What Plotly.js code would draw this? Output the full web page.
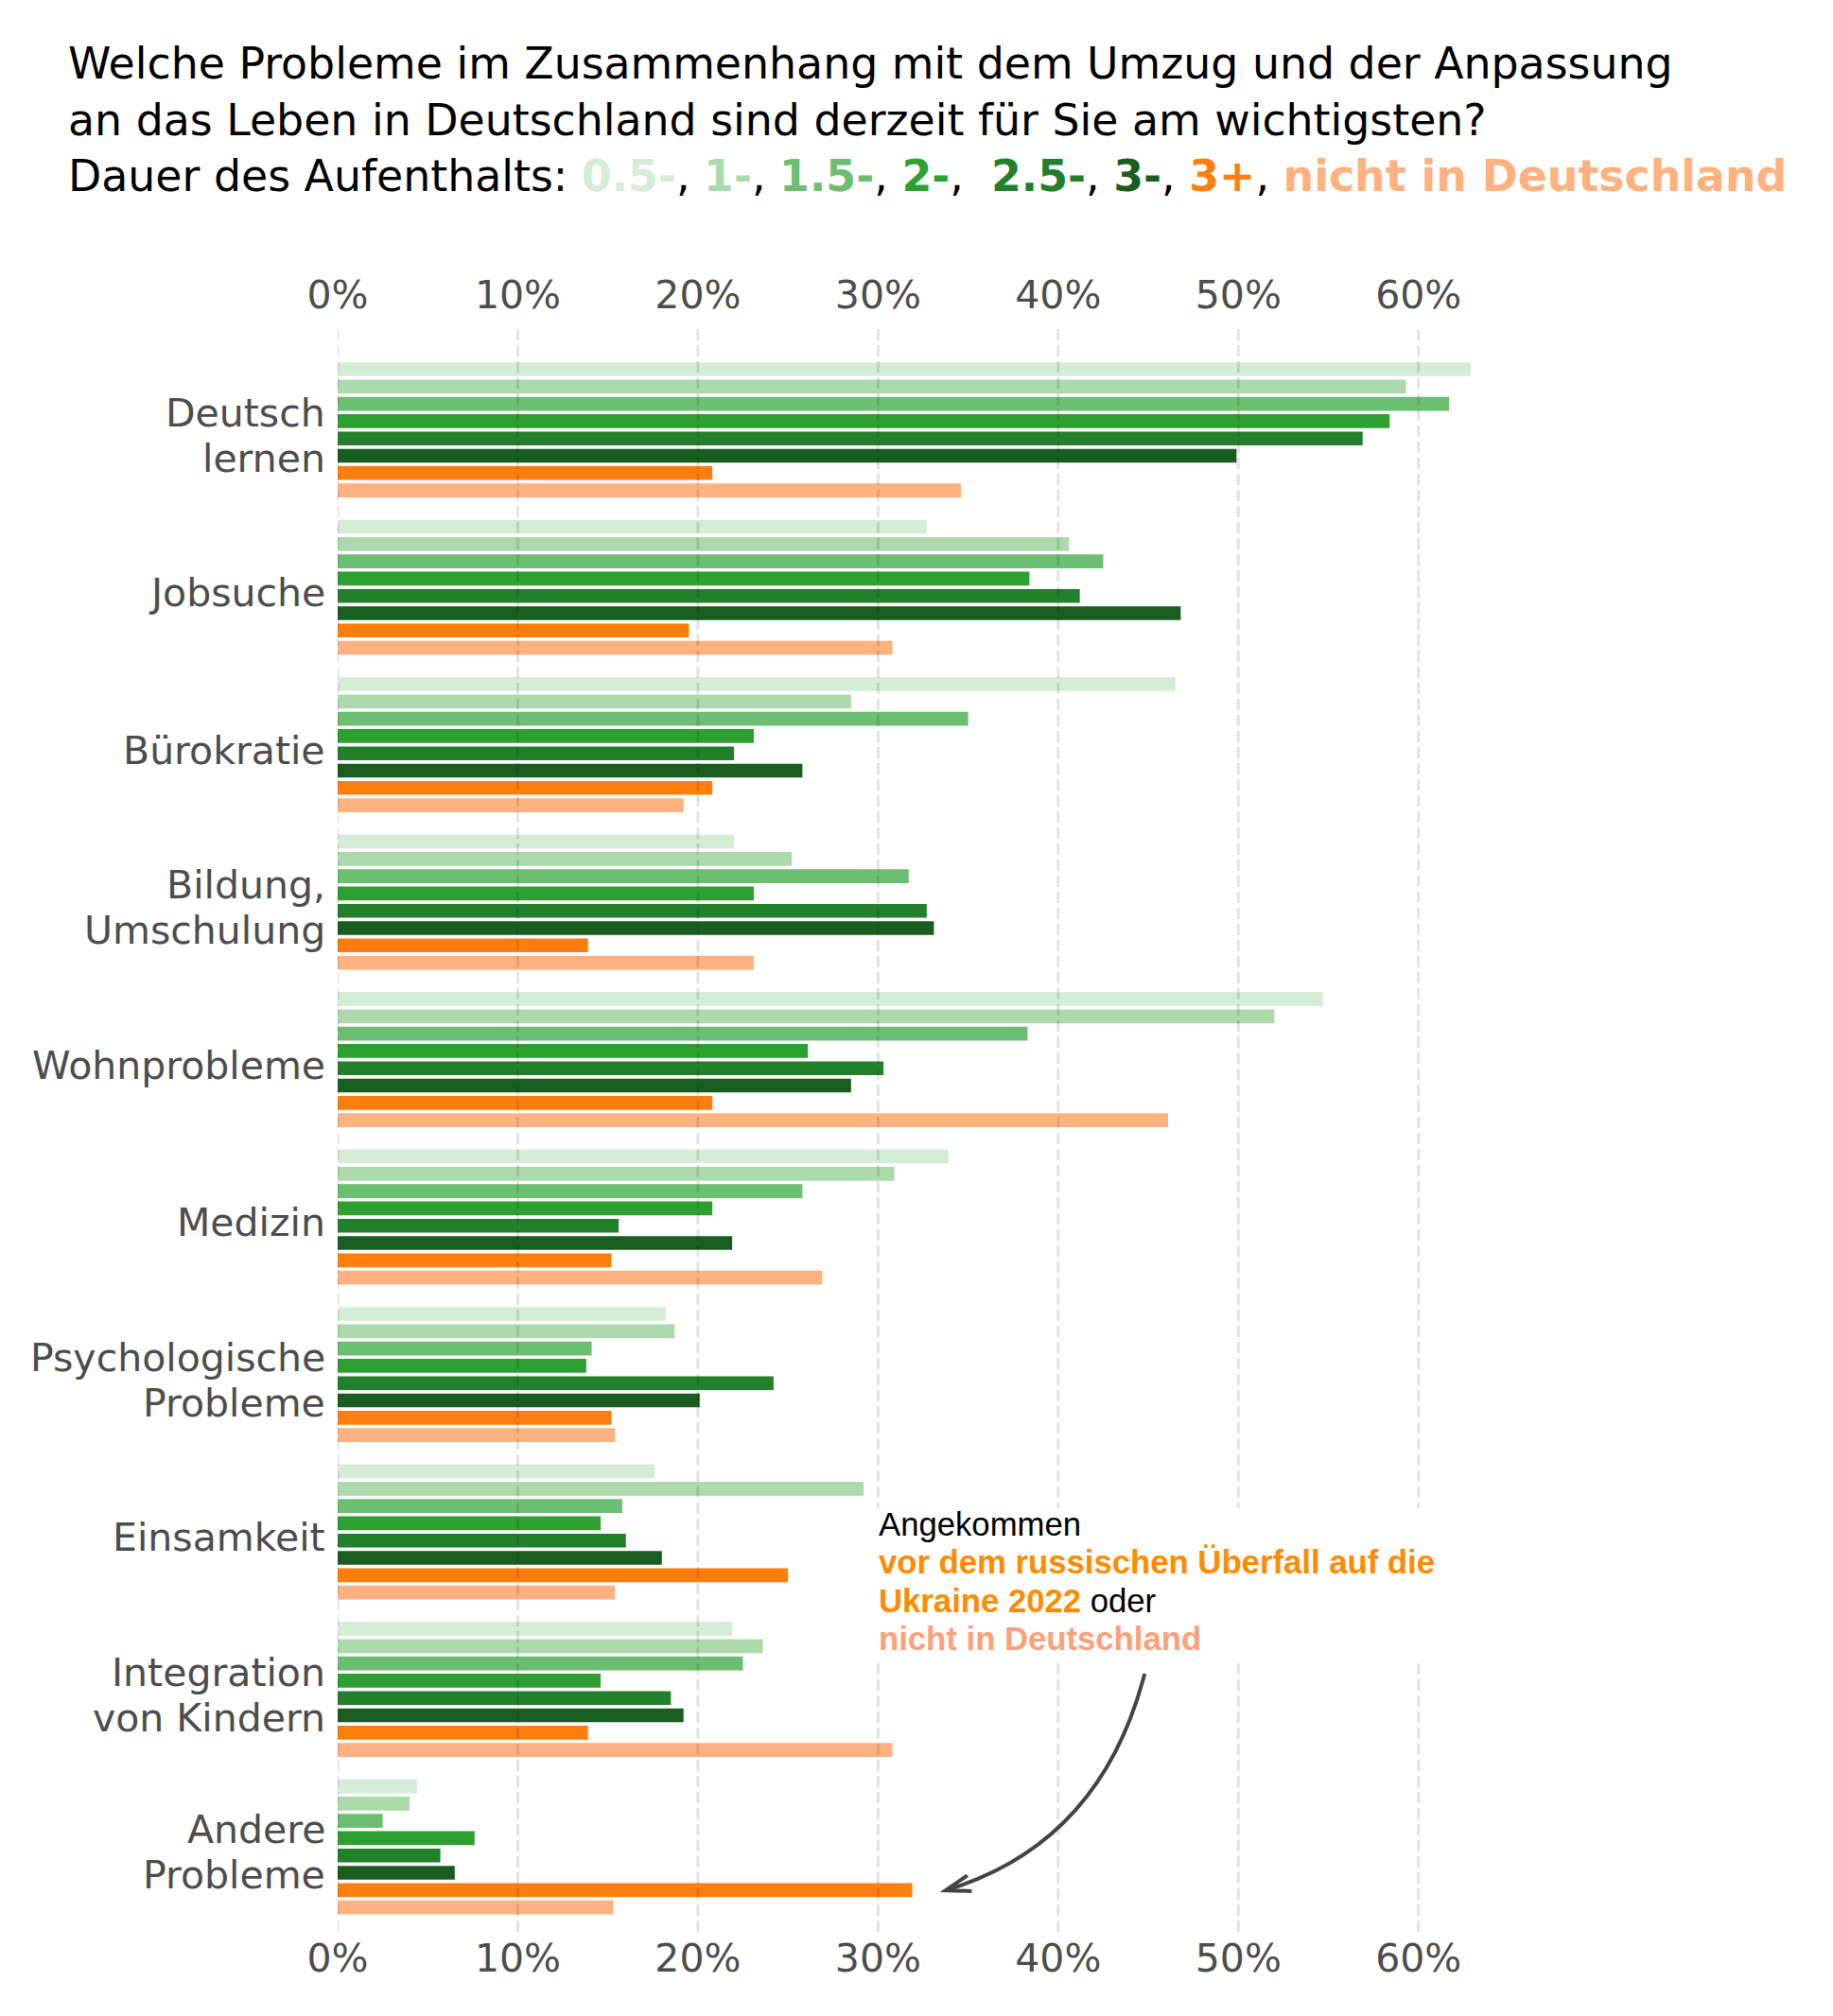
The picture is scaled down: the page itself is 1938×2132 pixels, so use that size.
<!DOCTYPE html>
<html>
<head>
<meta charset="utf-8">
<script src="https://cdn.plot.ly/plotly-3.0.1.min.js"></script>
<style>
html,body{margin:0;padding:0;background:#fff;}
#chart{width:1938px;height:2132px;}
</style>
</head>
<body>
<div id="chart"></div>
<script>
// ---- data ----
const categories = ['Deutsch lernen','Jobsuche','Bürokratie','Bildung, Umschulung','Wohnprobleme','Medizin','Psychologische Probleme','Einsamkeit','Integration von Kindern','Andere Probleme'];
const categoryLabels = ['Deutsch<br>lernen','Jobsuche','Bürokratie','Bildung,<br>Umschulung','Wohnprobleme','Medizin','Psychologische<br>Probleme','Einsamkeit','Integration<br>von Kindern','Andere<br>Probleme'];
const seriesNames = ['0.5-','1-','1.5-','2-','2.5-','3-','3+','nicht in Deutschland'];
const seriesColors = ['#d5ecd6','#acdaac','#6cbf70','#2ea032','#23802a','#1a5e1f','#ff7f0e','#ffb280'];

const v05  = [62.9, 32.7, 46.5, 22.0, 54.7, 33.9, 18.2, 17.6, 21.9, 4.4];
const v1   = [59.3, 40.6, 28.5, 25.2, 52.0, 30.9, 18.7, 29.2, 23.6, 4.0];
const v15  = [61.7, 42.5, 35.0, 31.7, 38.3, 25.8, 14.1, 15.8, 22.5, 2.5];
const v2   = [58.4, 38.4, 23.1, 23.1, 26.1, 20.8, 13.8, 14.6, 14.6, 7.6];
const v25  = [56.9, 41.2, 22.0, 32.7, 30.3, 15.6, 24.2, 16.0, 18.5, 5.7];
const v3   = [49.9, 46.8, 25.8, 33.1, 28.5, 21.9, 20.1, 18.0, 19.2, 6.5];
const v3p  = [20.8, 19.5, 20.8, 13.9, 20.8, 15.2, 15.2, 25.0, 13.9, 31.9];
const vNot = [34.6, 30.8, 19.2, 23.1, 46.1, 26.9, 15.4, 15.4, 30.8, 15.3];
const seriesValues = [v05, v1, v15, v2, v25, v3, v3p, vNot];

const xTickVals = [0, 10, 20, 30, 40, 50, 60];
const xTickText = ['0%','10%','20%','30%','40%','50%','60%'];

// ---- traces ----
const traces = seriesValues.map((vals, i) => ({
  type: 'bar',
  orientation: 'h',
  name: seriesNames[i],
  x: vals,
  y: categories,
  marker: {color: seriesColors[i], line: {width: 0}},
  hoverinfo: 'x+name'
}));
// invisible helper trace so that the top (duplicate) x axis is drawn
traces.push({
  type: 'scatter', mode: 'markers', xaxis: 'x2', yaxis: 'y',
  x: [xTickVals[0]], y: [categories[0]],
  marker: {opacity: 0, size: 1}, hoverinfo: 'skip', showlegend: false
});

// ---- title ----
const partsHtml = seriesNames.map((n, i) =>
  "<b><span style='color:" + seriesColors[i] + "'>" + n + "</span></b>");
let line3 = 'Dauer des Aufenthalts: ';
partsHtml.forEach((p, i) => {
  line3 += p;
  if (i < partsHtml.length - 1) line3 += (i === 3 ? ',&nbsp; ' : ', ');
});
const titleText = 'Welche Probleme im Zusammenhang mit dem Umzug und der Anpassung<br>' +
  'an das Leben in Deutschland sind derzeit für Sie am wichtigsten?<br>' + line3;

const tickFont = {family: 'DejaVu Sans, sans-serif', size: 41, color: '#4d4d4d'};
const annFont = 'Liberation Sans, Arial, sans-serif';

// grid lines drawn above bars (as in the reference)
const gridShapes = xTickVals.map(t => ({
  type: 'line', xref: 'x', yref: 'paper', x0: t, x1: t, y0: 0, y1: 1,
  layer: 'above',
  line: {color: 'rgba(0,0,0,0.11)', width: 3, dash: '12px,5px'}
}));

const shapes = gridShapes.concat([
  // white background behind the note
  {type: 'rect', xref: 'x', yref: 'paper', x0: 29.3, x1: 61.8, y0: 0.168, y1: 0.2642,
   fillcolor: '#ffffff', line: {width: 0}, layer: 'above'},
  // curved arrow
  {type: 'path', xref: 'x', yref: 'paper', layer: 'above',
   path: 'M 44.8,0.161 Q 42.35,0.0548 33.75,0.0259',
   line: {color: '#444444', width: 4}},
  {type: 'path', xref: 'x', yref: 'paper', layer: 'above',
   path: 'M 34.96,0.0352 L 33.75,0.0259 L 35.2,0.0254',
   line: {color: '#444444', width: 4}}
]);

const noteAnnotations = [
  {text: 'Angekommen', x: 30, y: 0.2541},
  {text: "<b><span style='color:#ff8c00'>vor dem russischen Überfall auf die</span></b>", x: 30, y: 0.2305},
  {text: "<b><span style='color:#ff8c00'>Ukraine 2022</span></b> oder", x: 30, y: 0.2064},
  {text: "<b><span style='color:#ffa07a'>nicht in Deutschland</span></b>", x: 30, y: 0.1828}
].map(a => Object.assign({
  xref: 'x', yref: 'paper', xanchor: 'left', yanchor: 'middle', showarrow: false,
  align: 'left', borderpad: 0,
  font: {family: annFont, size: 34.7, color: '#000000'}
}, a));

// category labels (one annotation per text line, tighter line spacing)
const labelLineGap = 48;
const labelOffset = 6;
const labelAnnotations = [];
categoryLabels.forEach((lab, i) => {
  const lines = lab.split('<br>');
  const n = lines.length;
  lines.forEach((ln, j) => {
    labelAnnotations.push({
      xref: 'paper', yref: 'y', x: 0, y: categories[i],
      xanchor: 'right', yanchor: 'middle', xshift: -12,
      yshift: -labelOffset - (j - (n - 1) / 2) * labelLineGap,
      text: ln, showarrow: false, borderpad: 0, align: 'right',
      font: tickFont
    });
  });
});

const layout = {
  width: 1938, height: 2132,
  paper_bgcolor: '#ffffff', plot_bgcolor: '#ffffff',
  margin: {l: 357, r: 324, t: 347, b: 89, pad: 0},
  showlegend: false,
  barmode: 'group',
  bargap: 0.121,
  bargroupgap: 0.2,
  title: {
    text: titleText,
    x: 72 / 1938, xanchor: 'left', xref: 'container',
    y: 1 - 83 / 2132, yanchor: 'top', yref: 'container',
    font: {family: 'DejaVu Sans, sans-serif', size: 45.8, color: '#000000'}
  },
  xaxis: {
    range: [0, 66], side: 'bottom', anchor: 'y',
    tickvals: xTickVals, ticktext: xTickText,
    showgrid: false, zeroline: false, showline: false,
    ticks: '',
    tickfont: tickFont, fixedrange: true
  },
  xaxis2: {
    range: [0, 66], side: 'top', overlaying: 'x', anchor: 'y', matches: 'x',
    tickvals: xTickVals, ticktext: xTickText,
    showgrid: false, zeroline: false, showline: false,
    ticks: 'outside', ticklen: 4, tickcolor: 'rgba(0,0,0,0)',
    tickfont: tickFont, fixedrange: true
  },
  yaxis: {
    type: 'category',
    categoryorder: 'array', categoryarray: categories,
    range: [9.540, -0.646],
    showticklabels: false,
    showgrid: false, zeroline: false, showline: false,
    ticks: '', fixedrange: true
  },
  shapes: shapes,
  annotations: noteAnnotations.concat(labelAnnotations)
};

Plotly.newPlot('chart', traces, layout, {displayModeBar: false, staticPlot: true});
</script>
</body>
</html>
